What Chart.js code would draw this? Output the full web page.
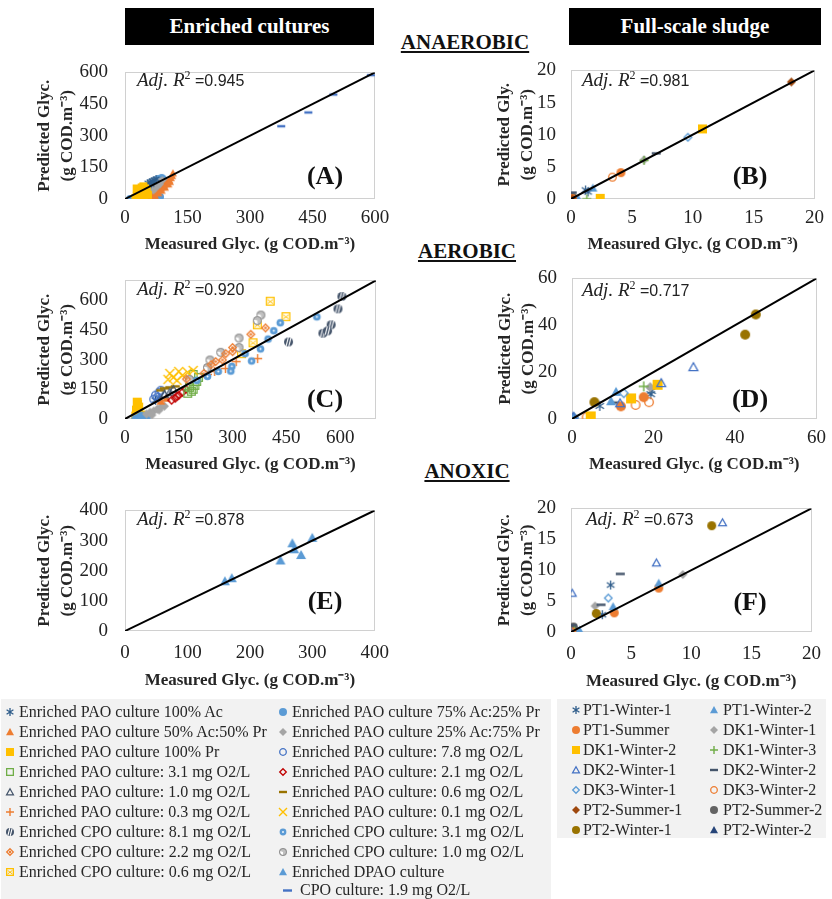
<!DOCTYPE html>
<html><head><meta charset="utf-8">
<script src="https://cdn.jsdelivr.net/npm/chart.js@4.4.0/dist/chart.umd.min.js"></script>
<style>
body{margin:0;width:832px;height:899px;position:relative;background:#fff;overflow:hidden;font-family:"Liberation Serif","Times New Roman",serif;color:#222;}
canvas.pc{position:absolute;}
.hdr{position:absolute;background:#000;color:#fff;font-weight:bold;font-size:21px;text-align:center;line-height:37px;height:37px;}
.sec{position:absolute;font-weight:bold;font-size:21px;text-decoration:underline;transform:translateX(-50%);line-height:24px;white-space:nowrap;color:#111;}
.r2{position:absolute;white-space:nowrap;line-height:20px;color:#222;}
.r2 i{font-family:"Liberation Serif",serif;font-size:19px;}
.r2 sup{font-family:"Liberation Serif",serif;font-size:12px;vertical-align:7px;line-height:0;}
.r2 span{font-family:"Liberation Sans",sans-serif;font-size:16px;}
.plab{position:absolute;font-weight:bold;font-size:26px;line-height:30px;transform:translate(-50%,-50%);color:#111;}
.lgbox{position:absolute;background:#f2f2f2;}
.li{position:absolute;font-size:16px;line-height:20px;white-space:nowrap;color:#262626;}
canvas.lm{position:absolute;}
</style>
</head><body>
<div class="hdr" style="left:125px;top:8px;width:249px;">Enriched cultures</div>
<div class="hdr" style="left:569px;top:8px;width:252px;">Full-scale sludge</div>
<div class="sec" style="left:465px;top:30px;">ANAEROBIC</div>
<div class="sec" style="left:467px;top:239px;">AEROBIC</div>
<div class="sec" style="left:467px;top:459px;">ANOXIC</div>
<div class="lgbox" style="left:1px;top:699px;width:550px;height:200px;"></div>
<div class="lgbox" style="left:557px;top:699px;width:269px;height:139px;"></div>
<div id="root"></div>
<script>
// ---------------- DATA ----------------
const enrichedNames = [
 'Enriched PAO culture 100% Ac','Enriched PAO culture 50% Ac:50% Pr','Enriched PAO culture 100% Pr',
 'Enriched PAO culture: 3.1 mg O2/L','Enriched PAO culture: 1.0 mg O2/L','Enriched PAO culture: 0.3 mg O2/L',
 'Enriched CPO culture: 8.1 mg O2/L','Enriched CPO culture: 2.2 mg O2/L','Enriched CPO culture: 0.6 mg O2/L',
 'Enriched PAO culture 75% Ac:25% Pr','Enriched PAO culture 25% Ac:75% Pr','Enriched PAO culture: 7.8 mg O2/L',
 'Enriched PAO culture: 2.1 mg O2/L','Enriched PAO culture: 0.6 mg O2/L','Enriched PAO culture: 0.1 mg O2/L',
 'Enriched CPO culture: 3.1 mg O2/L','Enriched CPO culture: 1.0 mg O2/L','Enriched DPAO culture','CPO culture: 1.9 mg O2/L'];
const fullNames = ['PT1-Winter-1','PT1-Summer','DK1-Winter-2','DK2-Winter-1','DK3-Winter-1','PT2-Summer-1','PT2-Winter-1',
 'PT1-Winter-2','DK1-Winter-1','DK1-Winter-3','DK2-Winter-2','DK3-Winter-2','PT2-Summer-2','PT2-Winter-2'];

const axisMax = {A:600,B:20,C:700,D:60,E:400,F:20};
const ticksA = [0,150,300,450,600];
const ticksB = [0,5,10,15,20];
const ticksC = [0,150,300,450,600];
const ticksD = [0,20,40,60];
const ticksE = [0,100,200,300,400];
const ticksF = [0,5,10,15,20];
const adjR2 = {A:'0.945',B:'0.981',C:'0.920',D:'0.717',E:'0.878',F:'0.673'};

// Panel A - anaerobic, enriched cultures  [measured, predicted]
const A_PAO_Ac100 = [[55,75],[60,80],[65,85],[70,90],[75,95],[62,70],[68,82]];
const A_PAO_50Ac50Pr = [[62,12],[66,18],[70,24],[74,30],[78,36],[82,44],[86,52],[90,58],[94,66],[98,74],[102,82],[106,90],[110,100],[113,110],[115,122],[72,15],[80,28],[88,40],[96,55],[104,70],[108,82]];
const A_PAO_Pr100 = [[25,5],[28,15],[30,25],[33,35],[36,45],[40,55],[44,60],[48,50],[52,40],[50,25],[45,15],[40,5],[35,2],[30,40],[38,30],[46,35],[55,20],[28,50]];
const A_PAO_75Ac25Pr = [[12,0],[20,0],[28,0],[36,2],[44,0],[52,3],[60,5],[68,8],[76,4],[84,10],[80,95],[88,100],[92,92]];
const A_PAO_25Ac75Pr = [[60,45],[65,55],[70,62],[75,70],[80,78],[85,85],[90,90],[72,50],[78,60],[84,70],[68,40]];
const A_CPO_19 = [[375,345],[440,410],[500,495],[590,587]];

// Panel B - anaerobic, full-scale sludge
const B_PT1W1 = [[1.4,1.1],[1.2,1.4]];
const B_PT1W2 = [[1.8,1.7],[0.6,0.0]];
const B_PT1S = [[4.1,4.1],[0.1,0.1]];
const B_DK1W1 = [[6.0,6.1]];
const B_DK1W2 = [[10.8,10.9],[2.4,0.1]];
const B_DK1W3 = [[1.3,0.0],[6.0,6.0]];
const B_DK2W1 = [[0.0,0.0]];
const B_DK2W2 = [[7.0,7.1],[0.1,1.0]];
const B_DK3W1 = [[9.6,9.6]];
const B_DK3W2 = [[3.4,3.4]];
const B_PT2S1 = [[18.1,18.2],[0.1,0.0]];
const B_PT2S2 = [[0.1,0.3]];
const B_PT2W1 = [[0.2,0.1]];
const B_PT2W2 = [[0.0,0.0]];

// Panel C - aerobic, enriched cultures
const C_PAO_Pr100 = [[35,75],[38,60],[32,45],[36,30],[30,15],[40,5],[45,20],[34,85]];
const C_PAO_25Ac75Pr = [[60,25],[70,35],[80,40],[90,50],[100,60],[110,65],[75,20],[95,45]];
const C_PAO_75Ac25Pr = [[30,0],[40,5],[50,0],[60,10],[45,15]];
const C_PAO_Ac100 = [[85,95],[95,105]];
const C_PAO_50Ac50Pr = [[100,90],[115,105]];
const C_PAO_31 = [[190,150],[195,170],[185,140],[200,190],[180,160],[205,210],[175,130],[190,225]];
const C_PAO_21 = [[140,105],[150,120],[160,135],[130,95],[170,150],[145,115]];
const C_PAO_10 = [[110,125],[125,135],[135,150]];
const C_PAO_03 = [[370,305],[310,290],[280,255],[250,240],[230,225]];
const C_PAO_78 = [[95,135],[85,120],[100,145],[90,110],[80,100]];
const C_PAO_06 = [[110,155],[125,160],[100,145],[140,165]];
const C_PAO_01 = [[125,230],[135,210],[150,240],[160,220],[175,235],[190,245],[145,195],[120,200]];
const C_CPO_81 = [[605,619],[594,556],[575,476],[552,433],[565,445],[456,389]];
const C_CPO_31 = [[433,486],[415,446],[399,404],[378,354],[353,293],[335,330],[298,266],[295,242],[535,516],[230,215],[260,240],[200,195]];
const C_CPO_22 = [[392,460],[351,428],[300,361],[281,330],[272,298],[253,290],[240,274],[171,202],[220,230],[300,340]];
const C_CPO_10 = [[379,525],[369,497],[318,409],[318,361],[267,337],[237,298],[230,260],[180,200]];
const C_CPO_06 = [[405,595],[449,517],[369,476],[357,385],[325,330]];

// Panel D - aerobic, full-scale sludge
const D_PT1W1 = [[6.8,5.6],[19.3,10.6],[19.5,12.0],[0.3,0.5]];
const D_PT1W2 = [[10.8,11.6],[9.6,7.6],[0.5,1.0]];
const D_PT1S = [[12.0,5.4],[17.6,9.3],[0.0,0.0]];
const D_DK1W1 = [[19.2,13.6],[0.5,0.8]];
const D_DK1W2 = [[14.5,8.8],[21.0,14.6],[4.6,1.1]];
const D_DK1W3 = [[17.6,13.9]];
const D_DK2W1 = [[29.8,22.2],[21.9,15.4],[11.8,6.8],[0.3,1.0]];
const D_DK2W2 = [[10.5,7.0]];
const D_DK3W1 = [[12.7,11.0],[0.5,0.5]];
const D_DK3W2 = [[15.6,6.0],[18.9,7.2],[3.6,0.8]];
const D_PT2S1 = [[0.0,0.2]];
const D_PT2S2 = [[0.2,0.0]];
const D_PT2W1 = [[45.1,44.6],[42.5,36.0],[5.5,7.2]];
const D_PT2W2 = [[0.1,0.3]];

// Panel E - anoxic, enriched cultures
const E_DPAO = [[160,165],[171,175],[249,234],[268,291],[271,271],[282,252],[300,309]];

// Panel F - anoxic, full-scale sludge
const F_PT1W1 = [[3.3,7.6],[2.6,2.8]];
const F_PT1W2 = [[7.3,7.9],[3.5,4.1],[0.7,0.3]];
const F_PT1S = [[7.3,7.1],[3.6,3.1],[0.1,0.0]];
const F_DK1W1 = [[9.3,9.3],[2.0,4.2]];
const F_DK1W3 = [[0.3,0.4]];
const F_DK2W1 = [[12.6,17.7],[7.1,11.2],[0.1,6.3],[0.0,0.0]];
const F_DK2W2 = [[4.1,9.4],[0.1,1.1],[2.5,4.4]];
const F_DK3W1 = [[3.1,5.5]];
const F_PT2S2 = [[0.2,0.8]];
const F_PT2W1 = [[11.7,17.2],[2.1,3.0]];
const F_PT2W2 = [[0.3,0.2]];

// ---------------- STYLES ----------------
const STY = {
 'Enriched PAO culture 100% Ac':['star','#2E5C8A'],
 'Enriched PAO culture 50% Ac:50% Pr':['triF','#ED7D31'],
 'Enriched PAO culture 100% Pr':['sqF','#FFC000'],
 'Enriched PAO culture: 3.1 mg O2/L':['sqO','#70AD47'],
 'Enriched PAO culture: 1.0 mg O2/L':['triO','#44546A'],
 'Enriched PAO culture: 0.3 mg O2/L':['plus','#ED7D31'],
 'Enriched CPO culture: 8.1 mg O2/L':['circStripe','#44546A'],
 'Enriched CPO culture: 2.2 mg O2/L':['diaDot','#ED7D31'],
 'Enriched CPO culture: 0.6 mg O2/L':['sqX','#FFC000'],
 'Enriched PAO culture 75% Ac:25% Pr':['circF','#5B9BD5'],
 'Enriched PAO culture 25% Ac:75% Pr':['diaF','#A5A5A5'],
 'Enriched PAO culture: 7.8 mg O2/L':['circO','#4472C4'],
 'Enriched PAO culture: 2.1 mg O2/L':['diaO','#C00000'],
 'Enriched PAO culture: 0.6 mg O2/L':['dash','#997300'],
 'Enriched PAO culture: 0.1 mg O2/L':['x','#FFC000'],
 'Enriched CPO culture: 3.1 mg O2/L':['circDot','#5B9BD5'],
 'Enriched CPO culture: 1.0 mg O2/L':['circHalf','#A5A5A5'],
 'Enriched DPAO culture':['triF','#5B9BD5'],
 'CPO culture: 1.9 mg O2/L':['dash','#4472C4'],
 'PT1-Winter-1':['star','#2E5C8A'],
 'PT1-Summer':['circF','#ED7D31'],
 'DK1-Winter-2':['sqF','#FFC000'],
 'DK2-Winter-1':['triO','#4472C4'],
 'DK3-Winter-1':['diaO','#5B9BD5'],
 'PT2-Summer-1':['diaF','#9E480E'],
 'PT2-Winter-1':['circF','#997300'],
 'PT1-Winter-2':['triF','#5B9BD5'],
 'DK1-Winter-1':['diaF','#A5A5A5'],
 'DK1-Winter-3':['plus','#70AD47'],
 'DK2-Winter-2':['dash','#44546A'],
 'DK3-Winter-2':['circO','#ED7D31'],
 'PT2-Summer-2':['circF','#636363'],
 'PT2-Winter-2':['triF','#264478']
};

function drawMarker(ctx, kind, color, s, cx, cy){
  const r = s/2;
  ctx.save(); ctx.translate(cx,cy);
  ctx.strokeStyle=color; ctx.fillStyle=color; ctx.lineWidth=1.3; ctx.lineCap='butt';
  ctx.beginPath();
  switch(kind){
    case 'circF': ctx.arc(0,0,r,0,Math.PI*2); ctx.fill(); break;
    case 'circDot': ctx.arc(0,0,r*0.85,0,Math.PI*2); ctx.fill(); ctx.beginPath(); ctx.fillStyle='#fff'; ctx.arc(0,0,r*0.22,0,Math.PI*2); ctx.fill(); break;
    case 'circO': ctx.arc(0,0,r-0.7,0,Math.PI*2); ctx.stroke(); break;
    case 'circStripe':
      ctx.arc(0,0,r,0,Math.PI*2); ctx.fill(); ctx.clip();
      ctx.strokeStyle='#fff'; ctx.lineWidth=1.1; ctx.beginPath();
      ctx.moveTo(-r*0.55,r); ctx.lineTo(-r*0.05,-r); ctx.moveTo(r*0.05,r); ctx.lineTo(r*0.55,-r); ctx.stroke(); break;
    case 'circHalf':
      ctx.arc(0,0,r,0,Math.PI*2); ctx.fillStyle='#BFBFBF'; ctx.fill();
      ctx.beginPath(); ctx.moveTo(0,0); ctx.arc(0,0,r*0.75,Math.PI*0.5,Math.PI*1.1); ctx.closePath(); ctx.fillStyle='#fff'; ctx.fill();
      ctx.beginPath(); ctx.arc(0,0,r-0.5,0,Math.PI*2); ctx.strokeStyle='#8c8c8c'; ctx.lineWidth=1; ctx.stroke(); break;
    case 'sqF': ctx.fillRect(-r,-r,s,s); break;
    case 'sqO': ctx.strokeRect(-r+0.65,-r+0.65,s-1.3,s-1.3); break;
    case 'sqX': ctx.strokeRect(-r+0.65,-r+0.65,s-1.3,s-1.3); ctx.beginPath(); ctx.lineWidth=1;
      ctx.moveTo(-r*0.6,-r*0.4); ctx.lineTo(r*0.6,r*0.5); ctx.moveTo(r*0.6,-r*0.4); ctx.lineTo(-r*0.6,r*0.5); ctx.stroke(); break;
    case 'triF': ctx.moveTo(0,-r); ctx.lineTo(r,r*0.8); ctx.lineTo(-r,r*0.8); ctx.closePath(); ctx.fill(); break;
    case 'triO': ctx.moveTo(0,-r+0.8); ctx.lineTo(r-0.6,r*0.8-0.4); ctx.lineTo(-r+0.6,r*0.8-0.4); ctx.closePath(); ctx.stroke(); break;
    case 'diaF': ctx.moveTo(0,-r); ctx.lineTo(r,0); ctx.lineTo(0,r); ctx.lineTo(-r,0); ctx.closePath(); ctx.fill(); break;
    case 'diaO': ctx.moveTo(0,-r+0.7); ctx.lineTo(r-0.7,0); ctx.lineTo(0,r-0.7); ctx.lineTo(-r+0.7,0); ctx.closePath(); ctx.stroke(); break;
    case 'diaDot': ctx.moveTo(0,-r+0.7); ctx.lineTo(r-0.7,0); ctx.lineTo(0,r-0.7); ctx.lineTo(-r+0.7,0); ctx.closePath(); ctx.stroke();
      ctx.beginPath(); ctx.arc(0,0,r*0.3,0,Math.PI*2); ctx.fill(); break;
    case 'plus': ctx.lineWidth=1.4; ctx.moveTo(-r,0); ctx.lineTo(r,0); ctx.moveTo(0,-r); ctx.lineTo(0,r); ctx.stroke(); break;
    case 'x': ctx.lineWidth=1.4; ctx.moveTo(-r,-r); ctx.lineTo(r,r); ctx.moveTo(r,-r); ctx.lineTo(-r,r); ctx.stroke(); break;
    case 'star': ctx.lineWidth=1.3; ctx.moveTo(0,-r); ctx.lineTo(0,r); ctx.moveTo(-r*0.85,-r*0.55); ctx.lineTo(r*0.85,r*0.55);
      ctx.moveTo(r*0.85,-r*0.55); ctx.lineTo(-r*0.85,r*0.55); ctx.stroke(); break;
    case 'dash': ctx.fillRect(-r,-1.2,s,2.4); break;
  }
  ctx.restore();
}
function markerCanvas(name, s){
  const c=document.createElement('canvas'); const n=Math.ceil(s)+4; c.width=n; c.height=n;
  drawMarker(c.getContext('2d'), STY[name][0], STY[name][1], s, n/2, n/2);
  return c;
}

const FONT = "'Liberation Serif','Times New Roman',serif";
const yTitleA = ['Predicted Glyc.','(g COD.m\u207B\u00B3)'];
const yTitleB = ['Predicted Gly.','(g COD.m\u207B\u00B3)'];
const xTitle = 'Measured Glyc. (g COD.m\u207B\u00B3)';

const panels = [
 {k:'A',ticks:ticksA,L:125,T:64,W:250,H:135,xH:60,xtp:2.5,ytp:33.5,tickPadX:8,ms:8,yt:yTitleA,r2:[137,80],lab:[325,176],
  series:[['CPO culture: 1.9 mg O2/L',A_CPO_19],['Enriched PAO culture 100% Pr',A_PAO_Pr100],['Enriched PAO culture 100% Ac',A_PAO_Ac100],
   ['Enriched PAO culture 25% Ac:75% Pr',A_PAO_25Ac75Pr],['Enriched PAO culture 50% Ac:50% Pr',A_PAO_50Ac50Pr],['Enriched PAO culture 75% Ac:25% Pr',A_PAO_75Ac25Pr]]},
 {k:'B',ticks:ticksB,L:571,T:64,W:249,H:135,xH:60,xtp:2.5,ytp:47.5,tickPadX:8,ms:9,yt:yTitleB,r2:[582,80],lab:[750,176],
  series:[['PT2-Summer-1',B_PT2S1],['DK1-Winter-2',B_DK1W2],['DK3-Winter-1',B_DK3W1],['DK2-Winter-2',B_DK2W2],['DK1-Winter-3',B_DK1W3],['DK1-Winter-1',B_DK1W1],
   ['PT1-Summer',B_PT1S],['DK3-Winter-2',B_DK3W2],['PT1-Winter-1',B_PT1W1],['PT1-Winter-2',B_PT1W2],['DK2-Winter-1',B_DK2W1],
   ['PT2-Summer-2',B_PT2S2],['PT2-Winter-2',B_PT2W2],['PT2-Winter-1',B_PT2W1]]},
 {k:'C',ticks:ticksC,L:125,T:272,W:251,H:147,xH:60,xtp:2.5,ytp:33.5,tickPadX:8,ms:9,yt:yTitleA,r2:[137,289],lab:[325,399],
  series:[['Enriched CPO culture: 8.1 mg O2/L',C_CPO_81],['Enriched CPO culture: 3.1 mg O2/L',C_CPO_31],['Enriched CPO culture: 2.2 mg O2/L',C_CPO_22],
   ['Enriched CPO culture: 1.0 mg O2/L',C_CPO_10],['Enriched CPO culture: 0.6 mg O2/L',C_CPO_06],['Enriched PAO culture: 0.3 mg O2/L',C_PAO_03],
   ['Enriched PAO culture: 0.1 mg O2/L',C_PAO_01],['Enriched PAO culture: 3.1 mg O2/L',C_PAO_31],['Enriched PAO culture: 2.1 mg O2/L',C_PAO_21],
   ['Enriched PAO culture: 1.0 mg O2/L',C_PAO_10],['Enriched PAO culture: 0.6 mg O2/L',C_PAO_06],['Enriched PAO culture: 7.8 mg O2/L',C_PAO_78],
   ['Enriched PAO culture 50% Ac:50% Pr',C_PAO_50Ac50Pr],['Enriched PAO culture 100% Ac',C_PAO_Ac100],['Enriched PAO culture 25% Ac:75% Pr',C_PAO_25Ac75Pr],
   ['Enriched PAO culture 75% Ac:25% Pr',C_PAO_75Ac25Pr],['Enriched PAO culture 100% Pr',C_PAO_Pr100]]},
 {k:'D',ticks:ticksD,L:572,T:272,W:250,H:147,xH:60,xtp:2.5,ytp:47.5,tickPadX:8,ms:10,yt:yTitleA,r2:[582,290],lab:[750,399],
  series:[['PT2-Winter-1',D_PT2W1],['DK2-Winter-1',D_DK2W1],['PT1-Winter-2',D_PT1W2],['DK3-Winter-1',D_DK3W1],['DK1-Winter-2',D_DK1W2],
   ['PT1-Summer',D_PT1S],['DK3-Winter-2',D_DK3W2],['DK1-Winter-3',D_DK1W3],['DK1-Winter-1',D_DK1W1],['PT1-Winter-1',D_PT1W1],['DK2-Winter-2',D_DK2W2],
   ['PT2-Summer-1',D_PT2S1],['PT2-Summer-2',D_PT2S2],['PT2-Winter-2',D_PT2W2]]},
 {k:'E',ticks:ticksE,L:125,T:502,W:250,H:129,xH:64,xtp:2.5,ytp:33.5,tickPadX:11,ms:10,yt:yTitleA,r2:[137,519],lab:[325,601],
  series:[['Enriched DPAO culture',E_DPAO]]},
 {k:'F',ticks:ticksF,L:571,T:502,W:249,H:130,xH:64,xtp:2.5,ytp:47.5,tickPadX:11,ms:9,yt:yTitleA,r2:[586,519],lab:[750,602],
  series:[['PT2-Winter-1',F_PT2W1],['DK2-Winter-1',F_DK2W1],['DK2-Winter-2',F_DK2W2],['PT1-Winter-1',F_PT1W1],['DK3-Winter-1',F_DK3W1],
   ['DK1-Winter-1',F_DK1W1],['PT1-Winter-2',F_PT1W2],['PT1-Summer',F_PT1S],['DK1-Winter-3',F_DK1W3],['PT2-Summer-2',F_PT2S2],['PT2-Winter-2',F_PT2W2]]}
];

const framePlugin = {id:'frame', beforeDatasetsDraw(chart){
  const a=chart.chartArea, c=chart.ctx; c.save(); c.strokeStyle='#d0d0d0'; c.lineWidth=1;
  c.strokeRect(Math.round(a.left)+0.5, Math.round(a.top)+0.5, Math.round(a.right-a.left)-1, Math.round(a.bottom-a.top)-1); c.restore();}};

const root = document.getElementById('root');
const yW = 125, padT = 20;
panels.forEach(p=>{
  const padR = (p.L < 400) ? 25 : 12;
  const cv = document.createElement('canvas'); cv.className='pc';
  const cw = yW + p.W + padR, ch = padT + p.H + p.xH;
  cv.width = cw; cv.height = ch; cv.style.left=(p.L-yW)+'px'; cv.style.top=(p.T-padT)+'px';
  cv.style.width=cw+'px'; cv.style.height=ch+'px';
  root.appendChild(cv);
  const max = axisMax[p.k];
  const datasets = [{data:[{x:0,y:0},{x:max,y:max}], showLine:true, borderColor:'#000', borderWidth:2, pointRadius:0, fill:false}];
  p.series.forEach(([name,arr])=>{
    datasets.push({label:name, data:arr.map(v=>({x:v[0],y:v[1]})), pointStyle:markerCanvas(name,p.ms), pointRadius:4, showLine:false});
  });
  const tickFont = {family:FONT,size:19};
  const titleFont = {family:FONT,size:17,weight:'bold',lineHeight:1.35};
  const setTicks = s=>{ s.ticks = p.ticks.map(v=>({value:v})); };
  new Chart(cv, {type:'scatter', data:{datasets},
    options:{responsive:false, animation:false, devicePixelRatio:1,
      layout:{padding:{top:padT,right:padR,left:0,bottom:0}},
      plugins:{legend:{display:false},tooltip:{enabled:false}},
      scales:{
        x:{type:'linear',min:0,max:max,ticks:{font:tickFont,color:'#222',padding:p.tickPadX,maxRotation:0,autoSkip:false},
           grid:{display:false,drawTicks:false},border:{display:false},afterBuildTicks:setTicks,
           afterFit:s=>{s.height=p.xH;},
           title:{display:true,text:xTitle,font:titleFont,color:'#262626',padding:{top:0,bottom:p.xtp}}},
        y:{type:'linear',min:0,max:max,ticks:{font:tickFont,color:'#222',padding:(p.L<400?17:15),autoSkip:false},
           grid:{display:false,drawTicks:false},border:{display:false},afterBuildTicks:setTicks,
           afterFit:s=>{s.width=yW;},
           title:{display:true,text:p.yt,font:titleFont,color:'#262626',padding:{top:p.ytp,bottom:0}}}
      }},
    plugins:[framePlugin]});
  const r2 = document.createElement('div'); r2.className='r2';
  r2.style.left=p.r2[0]+'px'; r2.style.top=(p.r2[1]-10)+'px';
  r2.innerHTML='<i>Adj. R</i><sup>2</sup><span> =' + adjR2[p.k] + '</span>';
  root.appendChild(r2);
  const lb = document.createElement('div'); lb.className='plab';
  lb.style.left=p.lab[0]+'px'; lb.style.top=p.lab[1]+'px'; lb.textContent='('+p.k+')';
  root.appendChild(lb);
});

// ---------------- LEGENDS ----------------
function legendItem(name, sx, tx, cy, s){
  const c=document.createElement('canvas'); c.className='lm'; const n=Math.ceil(s)+4; c.width=n; c.height=n;
  c.style.left=(sx-n/2)+'px'; c.style.top=(cy-n/2)+'px';
  drawMarker(c.getContext('2d'), STY[name][0], STY[name][1], s, n/2, n/2);
  root.appendChild(c);
  const d=document.createElement('div'); d.className='li'; d.style.left=tx+'px'; d.style.top=(cy-10)+'px'; d.textContent=name;
  root.appendChild(d);
}
enrichedNames.forEach((nm,i)=>{
  if(i<9) legendItem(nm,10,19,712+20*i,8);
  else if(i<18) legendItem(nm,283,292,712+20*(i-9),8);
  else legendItem(nm,287,300,890,9);
});
fullNames.forEach((nm,i)=>{
  if(i<7) legendItem(nm,576,583,710+20*i,8);
  else legendItem(nm,714,723,710+20*(i-7),8);
});
</script>
</body></html>
